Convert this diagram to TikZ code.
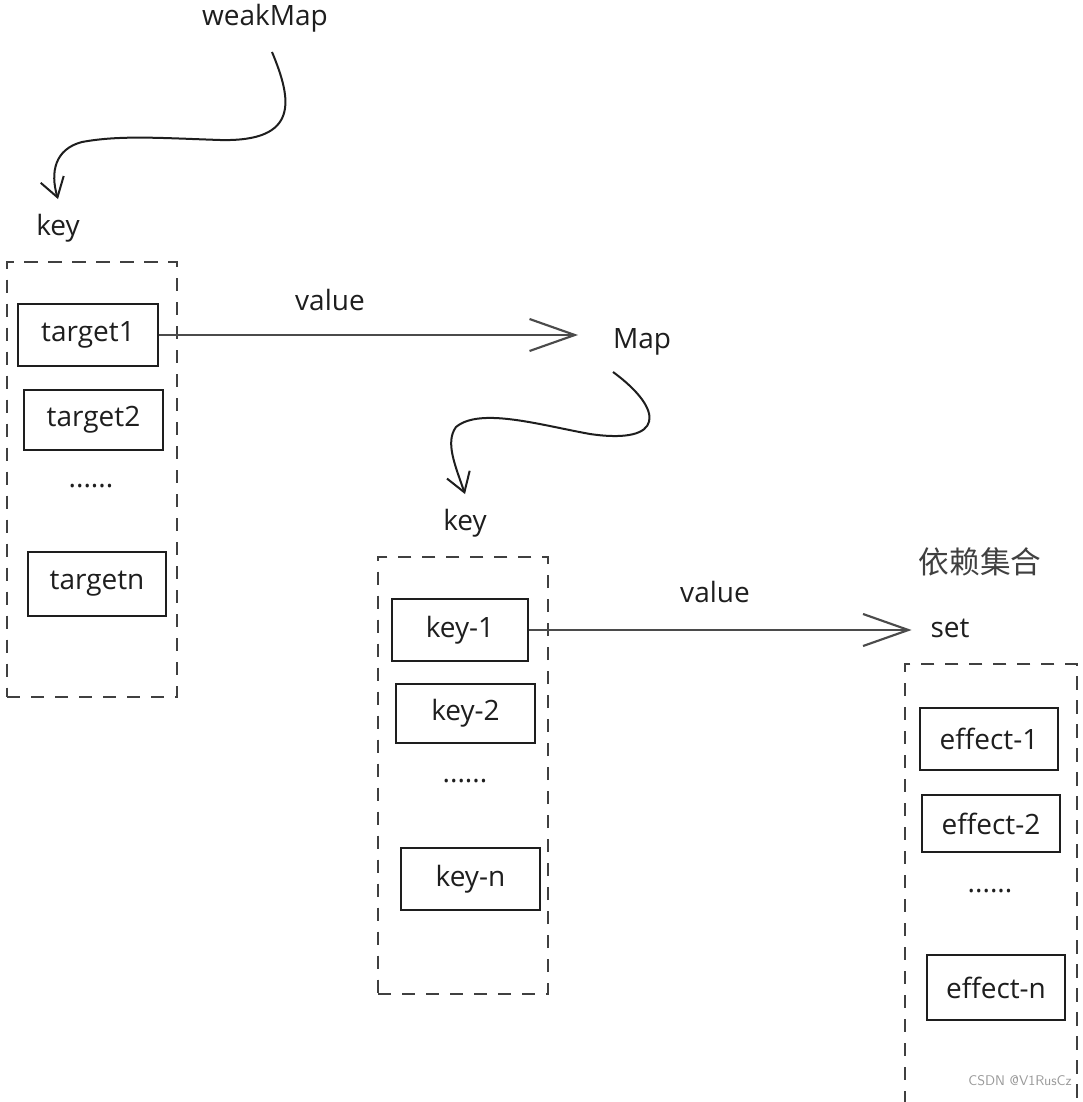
\documentclass[tikz,border=0pt]{standalone}
\usepackage{fontspec}
\setmainfont{Open Sans}
\newfontfamily\cjk{Noto Sans CJK SC}
\usetikzlibrary{arrows.meta}
\definecolor{ink}{HTML}{1E1E1E}
\tikzset{
  item/.style={draw=ink, line width=1.4pt, text=ink, inner sep=0pt,
    font=\fontsize{21}{25}\selectfont},
  grp/.style={draw=ink!85, line width=1.4pt, dash pattern=on 10pt off 8pt, inner sep=0pt},
  lbl/.style={text=ink, inner sep=2pt, font=\fontsize{21}{25}\selectfont},
  dots/.style={text=ink, inner sep=0pt, font=\fontsize{21}{25}\selectfont},
  flow/.style={draw=ink!80, line width=2.2pt,
    -{Straight Barb[length=34pt,width=24pt,line width=1.6pt]}},
  curl/.style={draw=ink, line width=1.5pt,
    -{Straight Barb[length=14pt,width=18pt,line width=1.5pt]}},
}
\begin{document}
\begin{tikzpicture}[x=0.75pt,y=-0.75pt]
\clip (0,0) rectangle (1082,1102);
\fill[white] (0,0) rectangle (1082,1102);

% ---- weakMap column
\node[lbl] (wm) at (265,18) {weakMap};
\coordinate (wmout) at (272,52);
\node[lbl] (key1) at (58,228) {key};
\node[grp, minimum width=127.5pt, minimum height=326pt] (g1) at (92,479.5) {};
\node[item, minimum width=105pt, minimum height=47pt] (t1) at (88,335) {target1};
\node[item, minimum width=104pt, minimum height=45pt] (t2) at (93.5,420) {target2};
\node[dots] (d1) at (91,486) {......};
\node[item, minimum width=103.5pt, minimum height=48pt] (tn) at (97,584) {targetn};

\draw[curl] (wmout) .. controls (292,100) and (300,142) .. (220,140)
  .. controls (160,138) and (120,135) .. (82,142)
  .. controls (55,149) and (50,172) .. ([yshift=9pt]key1.north);

% ---- value -> Map
\node[lbl] (v1) at (330,300) {value};
\node[lbl] (map) at (642,342) {Map};
\coordinate (mapout) at (613,372);
\draw[flow, shorten >=24pt] (t1.east) -- (t1.east -| map.west);

% ---- Map keys column
\node[lbl] (key2) at (465,523) {key};
\draw[curl] (mapout) .. controls (665,410) and (665,445) .. (590,434)
  .. controls (540,425) and (480,407) .. (456,427)
  .. controls (445,442) and (455,465) .. ([yshift=9pt]key2.north);
\node[grp, minimum width=127.5pt, minimum height=328pt] (g2) at (463,775.5) {};
\node[item, minimum width=102pt, minimum height=47pt] (k1) at (460,630) {key-1};
\node[item, minimum width=104pt, minimum height=44pt] (k2) at (465.5,713.5) {key-2};
\node[dots] (d2) at (465,781) {......};
\node[item, minimum width=104pt, minimum height=46.5pt] (kn) at (470.5,879) {key-n};

% ---- value -> set
\node[lbl] (v2) at (715,592) {value};
\node[text=ink!85, inner sep=0pt, font=\cjk\fontsize{23}{26}\selectfont] (dep) at (980,562) {依赖集合};
\node[lbl] (set) at (950,628) {set};
\draw[flow, shorten >=12pt] (k1.east) -- (k1.east -| set.west);

% ---- effects column
\node[grp, minimum width=129pt, minimum height=340pt] (g3) at (991,891) {};
\node[item, minimum width=103.5pt, minimum height=46.5pt] (e1) at (989,739) {effect-1};
\node[item, minimum width=103.5pt, minimum height=43pt] (e2) at (991,823.5) {effect-2};
\node[dots] (d3) at (990,891) {......};
\node[item, minimum width=103.5pt, minimum height=49pt] (en) at (996,987.5) {effect-n};

% ---- watermark
\node[text=gray!80, inner sep=0pt, font=\sffamily\fontsize{10.5}{12}\selectfont] (wmk) at (1020,1081) {CSDN @V1RusCz};
\end{tikzpicture}
\end{document}
